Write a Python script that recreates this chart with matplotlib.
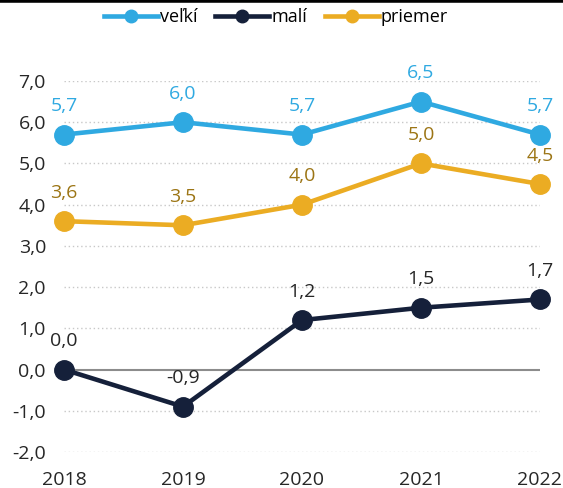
import matplotlib.pyplot as plt
from matplotlib.lines import Line2D

plt.rcParams['font.family'] = ['Open Sans', 'DejaVu Sans']

years = [2018, 2019, 2020, 2021, 2022]
velki = [5.7, 6.0, 5.7, 6.5, 5.7]
mali = [0.0, -0.9, 1.2, 1.5, 1.7]
priemer = [3.6, 3.5, 4.0, 5.0, 4.5]
yticks = [-2, -1, 0, 1, 2, 3, 4, 5, 6, 7]

blue = '#2FA9E1'
navy = '#15203A'
gold = '#EBAC23'

fig = plt.figure(figsize=(5.63, 4.88), dpi=100)
ax = fig.add_axes([64/563, 1-452/488, 476/563, 371/488])

for y in yticks:
    if y != 0:
        ax.axhline(y, color='#C8C8C8', lw=1, ls=(0, (1, 2)), zorder=0)
ax.axhline(0, color='#8C8C8C', lw=1.5, zorder=1)

series = [
    ('veľkí', velki, blue, blue),
    ('malí', mali, navy, '#262626'),
    ('priemer', priemer, gold, '#9C7515'),
]
for name, vals, c, tc in series:
    ax.plot(years, vals, color=c, lw=3.3, marker='o', ms=14, label=name,
            clip_on=False, zorder=3)
    for x, v in zip(years, vals):
        ax.annotate(f'{v:.1f}'.replace('.', ','), (x, v), xytext=(0, 14),
                    textcoords='offset points', ha='center', va='bottom',
                    color=tc, fontsize=14)

ax.set_xlim(2018, 2022)
ax.set_ylim(-2, 7)
ax.set_xticks(years)
ax.set_xticklabels([str(y) for y in years], fontsize=14, color='#262626')
ax.set_yticks(yticks)
ax.set_yticklabels([f'{y:.1f}'.replace('.', ',') for y in yticks], fontsize=14, color='#262626')
ax.tick_params(length=0, pad=13)
ax.tick_params(axis='x', pad=14)
for s in ax.spines.values():
    s.set_visible(False)

leg = fig.legend(loc='center', bbox_to_anchor=(0.49, 1-17/488), ncol=3, frameon=False,
                 fontsize=13, handlelength=3.0, handletextpad=0.1, columnspacing=1.0)
for h in leg.legend_handles:
    h.set_markersize(9)

fig.add_artist(Line2D([0, 1], [1, 1], transform=fig.transFigure, color='black', lw=4))

fig.savefig('out.png', dpi=100)
